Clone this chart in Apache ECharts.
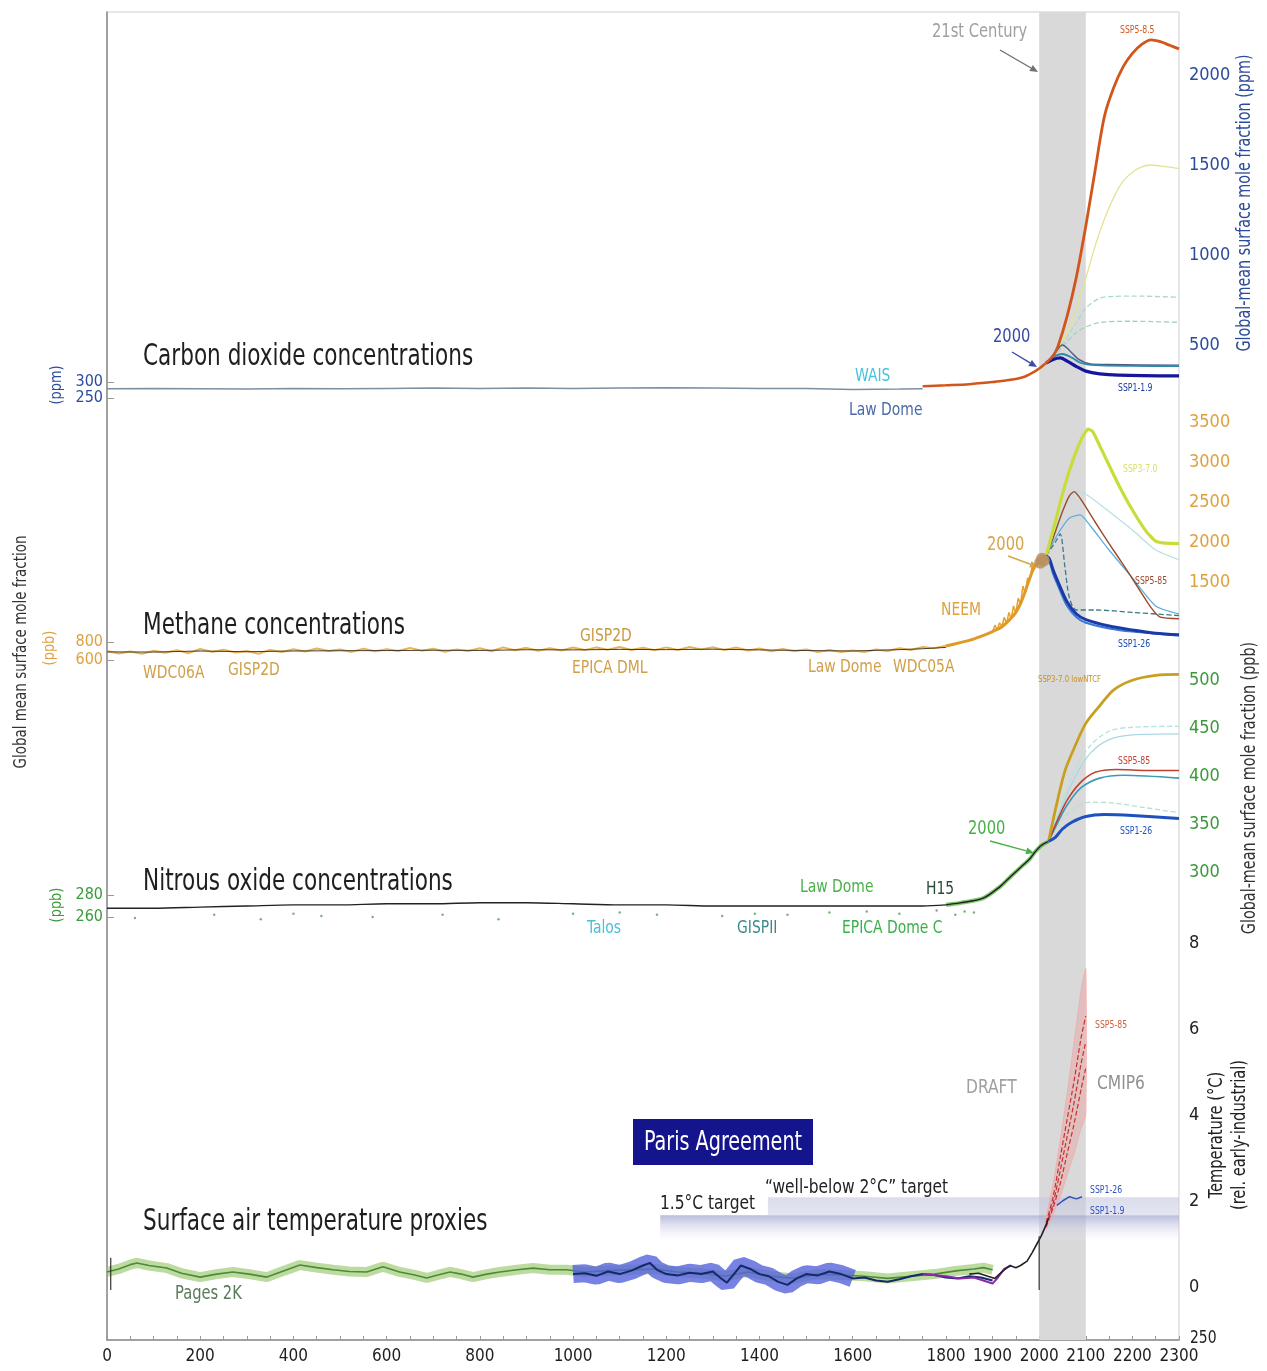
<!DOCTYPE html>
<html>
<head>
<meta charset="utf-8">
<script src="https://cdn.jsdelivr.net/npm/echarts@6/dist/echarts.min.js"></script>
<style>html,body{margin:0;background:#fff}#main{width:1267px;height:1371px}</style>
</head>
<body>
<div id="main"></div>
<script>
// ---- time axis ----
const yearTicks = [0, 200, 400, 600, 800, 1000, 1200, 1400, 1600, 1800, 1900, 2000, 2100, 2200, 2300];
const century21 = [2000, 2100];

// ---- CO2 (ppm) ----
const co2Ticks = [500, 1000, 1500, 2000];
const co2LeftTicks = [250, 300];
const co2Hist = [[0,279],[100,280],[200,279],[300,278],[400,280],[500,279],[600,280],[700,281],[800,280],[900,281],[1000,280],[1100,281],[1200,282],[1300,281],[1400,280],[1500,280],[1600,277],[1700,278],[1750,279]];
const co2Obs = [[1750,271],[1800,276],[1850,282],[1900,294],[1925,302],[1950,311],[1970,325],[1990,352],[2000,369],[2015,400]];
const co2Ssp585 = [[2015,400],[2030,440],[2040,490],[2060,660],[2080,880],[2100,1160],[2120,1470],[2140,1770],[2160,1930],[2180,2045],[2200,2120],[2220,2170],[2240,2195],[2260,2185],[2280,2165],[2300,2145]];
const co2Ssp370 = [[2015,400],[2040,480],[2060,570],[2080,700],[2100,870],[2120,1050],[2140,1200],[2160,1320],[2180,1410],[2200,1460],[2220,1490],[2240,1500],[2260,1495],[2300,1480]];
const co2Ssp460 = [[2015,400],[2040,470],[2060,545],[2080,625],[2100,705],[2130,760],[2160,770],[2200,772],[2300,765]];
const co2Ssp245 = [[2015,400],[2040,460],[2060,520],[2080,570],[2100,600],[2130,625],[2200,632],[2300,626]];
const co2Ssp534 = [[2015,400],[2035,460],[2050,500],[2065,470],[2085,420],[2110,395],[2150,392],[2300,388]];
const co2Ssp126 = [[2015,400],[2035,440],[2050,450],[2070,430],[2090,400],[2120,388],[2200,384],[2300,383]];
const co2Ssp119 = [[2015,400],[2030,420],[2045,428],[2060,410],[2080,380],[2100,355],[2130,340],[2170,333],[2300,328]];

// ---- CH4 (ppb) ----
const ch4Ticks = [1500, 2000, 2500, 3000, 3500];
const ch4LeftTicks = [600, 800];
const ch4Hist = [[0,690],[100,688],[200,700],[300,692],[400,700],[500,703],[600,705],[700,708],[800,706],[900,714],[1000,712],[1100,718],[1200,715],[1300,720],[1400,712],[1500,705],[1600,700],[1700,715],[1750,725],[1800,740]];
const ch4Raw = [[0,700],[25,672],[50,695],[75,668],[100,702],[125,680],[150,710],[175,676],[200,722],[225,690],[250,715],[275,684],[300,700],[325,670],[350,712],[375,688],[400,720],[425,694],[450,728],[475,700],[500,716],[525,690],[550,726],[575,698],[600,720],[625,700],[650,735],[675,704],[700,725],[725,692],[750,718],[775,700],[800,730],[825,698],[850,740],[875,708],[900,735],[925,702],[950,730],[975,705],[1000,738],[1025,710],[1050,740],[1075,715],[1100,745],[1125,712],[1150,735],[1175,708],[1200,740],[1225,712],[1250,745],[1275,718],[1300,742],[1325,710],[1350,738],[1375,705],[1400,728],[1425,698],[1450,722],[1475,696],[1500,718],[1525,690],[1550,712],[1575,688],[1600,706],[1625,690],[1650,716],[1675,700],[1700,730],[1725,712],[1750,745],[1775,730],[1800,760]];
const ch4Obs = [[1800,700],[1850,770],[1875,820],[1900,880],[1920,940],[1940,1050],[1950,1120],[1960,1230],[1970,1380],[1980,1550],[1990,1690],[2000,1750],[2015,1830]];
const ch4Neem = [[1900,880],[1905,960],[1910,900],[1915,990],[1920,940],[1925,1060],[1930,980],[1935,1120],[1940,1040],[1945,1200],[1950,1110],[1955,1300],[1960,1220],[1965,1450],[1970,1360],[1975,1550],[1980,1520],[1985,1700],[1990,1660],[1995,1760],[2000,1740]];
const ch4Blob = [[2002,1740],[2006,1790],[2010,1770]];
const ch4Ssp370 = [[2015,1830],[2030,2150],[2050,2600],[2070,2980],[2090,3280],[2105,3410],[2115,3380],[2140,3080],[2170,2720],[2200,2400],[2230,2130],[2250,2010],[2270,1985],[2300,1980]];
const ch4Ssp585 = [[2015,1830],[2030,2050],[2050,2380],[2065,2580],[2075,2630],[2090,2530],[2120,2250],[2150,1980],[2180,1720],[2210,1450],[2240,1180],[2260,1060],[2300,1040]];
const ch4Ssp460 = [[2015,1830],[2040,2250],[2065,2550],[2085,2640],[2110,2560],[2150,2380],[2200,2150],[2250,1900],[2300,1780]];
const ch4Ssp245 = [[2015,1830],[2040,2100],[2065,2300],[2088,2340],[2110,2200],[2150,1900],[2200,1550],[2250,1200],[2300,1100]];
const ch4Ssp434 = [[2015,1830],[2035,2000],[2045,2100],[2055,1700],[2065,1300],[2080,1150],[2120,1150],[2200,1120],[2300,1080]];
const ch4Ssp126 = [[2015,1830],[2022,1790],[2030,1650],[2045,1440],[2060,1250],[2080,1100],[2100,1030],[2150,950],[2200,900],[2250,860],[2300,840]];
const ch4Ssp119 = [[2015,1830],[2022,1760],[2030,1600],[2045,1390],[2060,1200],[2080,1060],[2100,990],[2150,920],[2200,880],[2300,830]];

// ---- N2O (ppb) ----
const n2oTicks = [300, 350, 400, 450, 500];
const n2oLeftTicks = [260, 280];
const n2oHist = [[0,268],[100,268],[200,269],[300,270],[400,271],[500,271],[600,272],[700,272],[800,273],[900,273],[1000,272],[1100,271],[1200,271],[1300,270],[1400,270],[1500,270],[1600,270],[1700,270],[1750,270],[1800,271]];
const n2oDots = [[60,259],[230,262],[330,258],[400,263],[460,261],[570,260],[720,262],[840,258],[1000,263],[1100,264],[1180,262],[1320,261],[1390,263],[1460,262],[1550,264],[1630,265],[1700,263],[1780,266],[1820,262],[1840,265],[1860,264]];
const n2oObs = [[1800,266],[1830,268],[1880,273],[1916,285],[1940,296],[1960,305],[1980,314],[1991,321],[2005,328],[2020,332]];
const n2oSsp370 = [[2020,332],[2038,372],[2055,405],[2073,427],[2100,455],[2131,474],[2160,490],[2200,500],[2250,505],[2300,506]];
const n2oPaleA = [[2020,332],[2050,375],[2080,410],[2110,432],[2150,447],[2200,451],[2300,452]];
const n2oPaleB = [[2020,332],[2050,370],[2080,402],[2110,424],[2150,438],[2200,443],[2300,444]];
const n2oSsp585 = [[2020,332],[2040,355],[2060,375],[2088,393],[2120,404],[2166,407],[2230,406],[2300,406]];
const n2oSsp245 = [[2020,332],[2040,352],[2060,370],[2090,388],[2130,398],[2180,401],[2300,398]];
const n2oPaleC = [[2020,332],[2050,355],[2080,368],[2110,373],[2160,372],[2230,367],[2300,362]];
const n2oSsp126 = [[2020,332],[2034,336],[2050,345],[2070,352],[2100,358],[2140,360],[2200,359],[2300,356]];

// ---- temperature (degC, rel. early-industrial) ----
const tempTicks = [0, 2, 4, 6, 8];
const pages2k = [[0,0.35],[25,0.42],[50,0.52],[64,0.56],[90,0.5],[128,0.44],[160,0.32],[200,0.23],[235,0.3],[270,0.35],[305,0.3],[343,0.23],[380,0.38],[414,0.51],[450,0.45],[485,0.4],[520,0.36],[557,0.35],[592,0.47],[628,0.35],[660,0.28],[686,0.21],[710,0.28],[736,0.35],[760,0.3],[785,0.23],[815,0.3],[843,0.35],[880,0.4],[914,0.44],[950,0.4],[986,0.4],[1025,0.35],[1075,0.38],[1125,0.4],[1175,0.42],[1225,0.35],[1275,0.32],[1325,0.25],[1375,0.35],[1425,0.25],[1475,0.2],[1525,0.3],[1575,0.28],[1625,0.25],[1675,0.2],[1725,0.25],[1775,0.3],[1825,0.38],[1860,0.42],[1880,0.45],[1900,0.4]];
const recon1000 = [[1000,0.3],[1025,0.32],[1050,0.26],[1075,0.36],[1100,0.3],[1125,0.38],[1150,0.5],[1165,0.56],[1180,0.4],[1200,0.3],[1225,0.27],[1250,0.33],[1275,0.3],[1300,0.36],[1315,0.22],[1330,0.1],[1345,0.3],[1360,0.5],[1380,0.42],[1400,0.3],[1420,0.25],[1440,0.12],[1460,0.05],[1480,0.2],[1500,0.3],[1525,0.27],[1550,0.36],[1575,0.3],[1600,0.2],[1625,0.22],[1650,0.15],[1675,0.12],[1700,0.18],[1725,0.25],[1750,0.3],[1775,0.28],[1800,0.22],[1825,0.2],[1850,0.25],[1875,0.22],[1900,0.15]];
const reconPurple = [[1750,0.3],[1800,0.25],[1830,0.2],[1860,0.22],[1880,0.15],[1900,0.08],[1910,0.2],[1925,0.42],[1940,0.5]];
const tempObs = [[1850,0.3],[1870,0.32],[1890,0.25],[1905,0.2],[1920,0.35],[1937,0.5],[1950,0.45],[1960,0.5],[1974,0.6],[1985,0.8],[1995,1.0],[2005,1.2],[2015,1.45],[2020,1.6]];
const tempSspA = [[2015,1.5],[2030,2.1],[2045,3.0],[2060,3.9],[2075,4.8],[2090,5.8],[2100,6.3]];
const tempSspB = [[2015,1.45],[2030,1.95],[2045,2.7],[2060,3.5],[2075,4.3],[2090,5.2],[2100,5.7]];
const tempSspC = [[2015,1.4],[2030,1.85],[2045,2.4],[2060,3.1],[2075,3.8],[2090,4.6],[2100,5.1]];
const tempLow = [[2015,1.35],[2030,1.7],[2045,2.1],[2060,2.6],[2075,3.1],[2090,3.7],[2100,4.0]];
const tempHigh = [[2015,1.6],[2030,2.4],[2045,3.4],[2060,4.5],[2075,5.7],[2090,6.9],[2100,7.4]];
const tempSsp126 = [[2038,1.9],[2050,2.0],[2065,2.1],[2080,2.05],[2092,2.1]];
const marker2000 = [[2000,-0.07],[2000,1.18]];
const markerStart = [[8,-0.07],[8,0.68]];
const target15 = [1187, 1.1, 1.67];   // start year, low, high
const target2 = [1418, 1.67, 2.09];

const FONT = "'Liberation Sans Narrow','DejaVu Sans Condensed','Arial Narrow',sans-serif";
const chart = echarts.init(document.getElementById('main'));

// panel grids: base frame, CO2, CH4, N2O, temperature
const grids = [
  { left: 107, right: 88, top: 12, height: 1328, show: true, borderColor: '#cfcfcf', borderWidth: 1 },
  { left: 107, right: 88, top: 21, height: 378 },
  { left: 107, right: 88, top: 406, height: 264 },
  { left: 107, right: 88, top: 661, height: 268.8 },
  { left: 107, right: 88, top: 943, height: 387 }
];

const plain = v => String(v);
const xAxes = [
  { type: 'value', gridIndex: 0, min: 0, max: 2300, interval: 50,
    axisLine: { lineStyle: { color: '#8a8a8a', width: 1.5 } },
    axisTick: { inside: true, length: 4, lineStyle: { color: '#999' } },
    splitLine: { show: false },
    axisLabel: { customValues: yearTicks, formatter: plain, color: '#1e1e1e', fontSize: 17, fontFamily: FONT, margin: 8 } }
];
for (let i = 1; i < 5; i++) xAxes.push({ type: 'value', gridIndex: i, min: 0, max: 2300, show: false });

function rightAxis(gi, min, max, ticks, color) {
  return { type: 'value', gridIndex: gi, position: 'right', min, max,
    axisLine: { show: false }, axisTick: { show: false }, splitLine: { show: false },
    axisLabel: { customValues: ticks, formatter: plain, color, fontSize: 18, fontFamily: FONT, margin: 10 } };
}
function leftAxis(gi, min, max, ticks, color) {
  return { type: 'value', gridIndex: gi, position: 'left', min, max,
    axisLine: { show: false }, splitLine: { show: false },
    axisTick: { customValues: ticks, inside: true, length: 7, lineStyle: { color: '#999' } },
    axisLabel: { customValues: ticks, formatter: plain, color, fontSize: 16, fontFamily: FONT, margin: 4 } };
}
const yAxes = [
  { type: 'value', gridIndex: 0, min: 0, max: 1, axisLine: { show: true, lineStyle: { color: '#8a8a8a', width: 1.5 } },
    axisTick: { show: false }, axisLabel: { show: false }, splitLine: { show: false } },
  rightAxis(1, 200, 2300, co2Ticks, '#2b4c9b'),
  leftAxis(1, 247, 1428.25, co2LeftTicks, '#2b4c9b'),
  rightAxis(2, 400, 3700, ch4Ticks, '#e0a040'),
  leftAxis(2, 488.9, 3422.2, ch4LeftTicks, '#e0a040'),
  rightAxis(3, 240, 520, n2oTicks, '#3a9a3a'),
  leftAxis(3, 248.36, 492.7, n2oLeftTicks, '#3a9a3a'),
  rightAxis(4, -1, 8, tempTicks, '#222')
];

function ln(name, data, xi, yi, color, width, more) {
  return Object.assign({ name, type: 'line', data, xAxisIndex: xi, yAxisIndex: yi,
    showSymbol: false, symbol: 'none', silent: true, z: 3,
    lineStyle: { color, width } }, more || {});
}
const dashed = (c, w) => ({ lineStyle: { color: c, width: w, type: 'dashed' }, smooth: 0.3 });

const bandGrad = (a, b) => new echarts.graphic.LinearGradient(0, 0, 0, 1, [
  { offset: 0, color: a }, { offset: 1, color: b }]);

const series = [
  // 21st-century shading across all panels
  { type: 'line', xAxisIndex: 0, yAxisIndex: 0, data: [[2000, 0]], symbol: 'none', silent: true, z: 0,
    lineStyle: { opacity: 0 },
    markArea: { silent: true, itemStyle: { color: '#d9d9d9' },
      data: [[{ xAxis: century21[0] }, { xAxis: century21[1] }]] } },

  // CO2
  ln('co2Hist', co2Hist, 1, 2, '#7d8fa3', 1.5),
  ln('co2Ssp370', co2Ssp370, 1, 1, '#e4e394', 1.3, { smooth: 0.3 }),
  ln('co2Ssp460', co2Ssp460, 1, 1, '#a9dcc4', 1.3, dashed('#a9dcc4', 1.3)),
  ln('co2Ssp245', co2Ssp245, 1, 1, '#9fd4c0', 1.3, dashed('#9fd4c0', 1.3)),
  ln('co2Ssp534', co2Ssp534, 1, 1, '#4a5a8a', 1.3, { smooth: 0.3 }),
  ln('co2Ssp126', co2Ssp126, 1, 1, '#2a8aa8', 1.8, { smooth: 0.3 }),
  ln('co2Ssp119', co2Ssp119, 1, 1, '#16169a', 3.2, { smooth: 0.3 }),
  ln('co2Obs', co2Obs, 1, 1, '#d2561b', 2.5, { smooth: 0.3 }),
  ln('co2Ssp585', co2Ssp585, 1, 1, '#d2561b', 2.8, { smooth: 0.3 }),

  // CH4
  ln('ch4Raw', ch4Raw, 2, 4, '#e2a63a', 2, { lineStyle: { color: '#e2a63a', width: 2, opacity: 0.85 } }),
  ln('ch4Hist', ch4Hist, 2, 4, '#4a3a20', 1),
  ln('ch4Neem', ch4Neem, 2, 3, '#e6a12a', 1.5),
  ln('ch4Obs', ch4Obs, 2, 3, '#df9a28', 3, { smooth: 0.3 }),
  ln('ch4Ssp460', ch4Ssp460, 2, 3, '#b9e0e4', 1.3, { smooth: 0.2 }),
  ln('ch4Ssp245', ch4Ssp245, 2, 3, '#5eaee0', 1.3, { smooth: 0.2 }),
  ln('ch4Ssp434', ch4Ssp434, 2, 3, '#9cc4b0', 1.3, dashed('#3a7a8a', 1.3)),
  ln('ch4Ssp585', ch4Ssp585, 2, 3, '#9a4a2a', 1.4, { smooth: 0.2 }),
  ln('ch4Ssp370', ch4Ssp370, 2, 3, '#c8dc3a', 3.2, { smooth: 0.15 }),
  ln('ch4Ssp119', ch4Ssp119, 2, 3, '#3a78d8', 2, { smooth: 0.3 }),
  ln('ch4Ssp126', ch4Ssp126, 2, 3, '#1a3aa8', 3, { smooth: 0.3 }),
  { type: 'scatter', data: ch4Blob, xAxisIndex: 2, yAxisIndex: 3, symbolSize: 12, silent: true, z: 4,
    itemStyle: { color: '#b89060', opacity: 0.85 } },

  // N2O
  { type: 'scatter', data: n2oDots, xAxisIndex: 3, yAxisIndex: 6, symbolSize: 2.5, silent: true,
    itemStyle: { color: '#5aa05a' } },
  ln('n2oHist', n2oHist, 3, 6, '#222', 1.4, { smooth: 0.3 }),
  ln('n2oObsGreen', n2oObs, 3, 5, '#5cb84a', 4, { smooth: 0.3, lineStyle: { color: '#5cb84a', width: 4, opacity: 0.8 } }),
  ln('n2oObs', n2oObs, 3, 5, '#222', 1.4, { smooth: 0.3 }),
  ln('n2oPaleA', n2oPaleA, 3, 5, '#b4e2e2', 1.3, dashed('#b4e2e2', 1.3)),
  ln('n2oPaleB', n2oPaleB, 3, 5, '#a8d8e4', 1.3, { smooth: 0.3 }),
  ln('n2oPaleC', n2oPaleC, 3, 5, '#b8e0d0', 1.3, dashed('#b8e0d0', 1.3)),
  ln('n2oSsp245', n2oSsp245, 3, 5, '#3a9ab8', 1.6, { smooth: 0.3 }),
  ln('n2oSsp585', n2oSsp585, 3, 5, '#c0402c', 1.6, { smooth: 0.3 }),
  ln('n2oSsp370', n2oSsp370, 3, 5, '#c8a020', 2.8, { smooth: 0.3 }),
  ln('n2oSsp126', n2oSsp126, 3, 5, '#1e50c0', 3, { smooth: 0.3 }),

  // temperature: Paris target bands
  { type: 'line', xAxisIndex: 4, yAxisIndex: 7, data: [[2000, 0]], symbol: 'none', silent: true, z: 1,
    lineStyle: { opacity: 0 },
    markArea: { silent: true, data: [
      [{ xAxis: target15[0], yAxis: target15[2], itemStyle: { color: bandGrad('rgba(165,170,208,0.8)', 'rgba(235,236,245,0.1)') } },
       { xAxis: 2300, yAxis: target15[1] }],
      [{ xAxis: target2[0], yAxis: target2[2], itemStyle: { color: bandGrad('rgba(195,198,222,0.6)', 'rgba(205,208,228,0.55)') } },
       { xAxis: 2300, yAxis: target2[1] }]
    ] } },
  ln('p2kBand', pages2k, 4, 7, '#9ccc70', 10, { lineStyle: { color: '#98c86c', width: 10, opacity: 0.65 } }),
  ln('p2k', pages2k, 4, 7, '#4e8a3a', 1.6),
  ln('reconBand', recon1000.filter(p => p[0] <= 1600), 4, 7, '#5563dc', 18,
    { lineStyle: { color: '#5563dc', width: 18, opacity: 0.8 } }),
  ln('recon', recon1000, 4, 7, '#16286a', 2),
  ln('reconPurple', reconPurple, 4, 7, '#8a2aa8', 2),
  // SSP5-8.5 spread, drawn from the low/high envelope arrays
  { type: 'custom', coordinateSystem: 'cartesian2d', xAxisIndex: 4, yAxisIndex: 7, silent: true, z: 2,
    data: [tempLow[0]],
    renderItem: function (params, api) {
      const pts = tempHigh.map(p => api.coord(p)).concat(tempLow.slice().reverse().map(p => api.coord(p)));
      return { type: 'polygon', shape: { points: pts, smooth: 0.2 },
        style: { fill: 'rgba(238,150,150,0.38)', stroke: 'rgba(240,170,170,0.8)', lineWidth: 1 } };
    } },
  ln('tempSspC', tempSspC, 4, 7, '#c83030', 1.2, dashed('#c83030', 1.2)),
  ln('tempSspB', tempSspB, 4, 7, '#c83030', 1.2, dashed('#c83030', 1.2)),
  ln('tempSspA', tempSspA, 4, 7, '#c83030', 1.2, dashed('#c83030', 1.2)),
  ln('tempObs', tempObs, 4, 7, '#222', 1.6),
  ln('tempSsp126', tempSsp126, 4, 7, '#3050c0', 1.5),
  ln('marker2000', marker2000, 4, 7, '#333', 1.2),
  ln('markerStart', markerStart, 4, 7, '#333', 1.2)
];

// ---- text annotations ----
const SX = 0.86;
function txt(text, x, y, size, color, sx) {
  return { type: 'text', x, y, scaleX: sx || SX, silent: true, z: 50,
    style: { text, fill: color, fontSize: size, fontFamily: FONT, align: 'left', verticalAlign: 'middle' } };
}
function ctxt(text, x, y, size, color, sx) {
  const t = txt(text, x, y, size, color, sx);
  t.style.align = 'center';
  return t;
}
function vtxt(text, x, y, size, color, sx) {
  return { type: 'text', x, y, rotation: Math.PI / 2, scaleX: sx || 0.9, silent: true, z: 50,
    style: { text, fill: color, fontSize: size, fontFamily: FONT, align: 'center', verticalAlign: 'middle' } };
}
function arrow(x1, y1, x2, y2, color) {
  const a = Math.atan2(y2 - y1, x2 - x1), L = 8, W = 3.5;
  const bx = x2 - L * Math.cos(a), by = y2 - L * Math.sin(a);
  return { type: 'group', silent: true, z: 50, children: [
    { type: 'line', shape: { x1, y1, x2: bx, y2: by }, style: { stroke: color, lineWidth: 1.4 } },
    { type: 'polygon', shape: { points: [[x2, y2], [bx - W * Math.sin(a), by + W * Math.cos(a)], [bx + W * Math.sin(a), by - W * Math.cos(a)]] },
      style: { fill: color } }
  ] };
}
const TITLE = '#1e1e1e';
const TS = 0.8;
const graphic = [
  txt('Carbon dioxide concentrations', 143, 357, 30, TITLE, TS),
  txt('Methane concentrations', 143, 626, 30, TITLE, TS),
  txt('Nitrous oxide concentrations', 143, 882, 30, TITLE, TS),
  txt('Surface air temperature proxies', 143, 1222, 30, TITLE, TS),

  txt('21st Century', 932, 32, 19, '#a0a0a0'),
  arrow(1000, 50, 1038, 72, '#707070'),
  txt('SSP5-8.5', 1120, 30, 10, '#d2561b'),
  txt('2000', 993, 337, 19, '#3a4aa8'),
  arrow(1012, 352, 1037, 367, '#3a4aa8'),
  txt('WAIS', 855, 376, 18, '#45c2dc'),
  txt('Law Dome', 849, 410, 18, '#4a6aa8'),
  txt('SSP1-1.9', 1118, 388, 10, '#1a3a9a'),

  txt('WDC06A', 143, 673, 18, '#d0a04a'),
  txt('GISP2D', 228, 670, 18, '#d0a04a'),
  txt('GISP2D', 580, 636, 18, '#c89a40'),
  txt('EPICA DML', 572, 668, 18, '#d0a04a'),
  txt('Law Dome', 808, 667, 18, '#d0a04a'),
  txt('WDC05A', 893, 667, 18, '#d0a04a'),
  txt('NEEM', 941, 610, 18, '#e0a040'),
  txt('2000', 987, 545, 19, '#d8a448'),
  arrow(1008, 556, 1038, 567, '#d8a448'),
  txt('SSP3-7.0', 1123, 469, 10, '#d8e070'),
  txt('SSP5-85', 1135, 581, 10, '#9a4a2a'),
  txt('SSP1-26', 1118, 644, 10, '#1a4ab0'),

  txt('Law Dome', 800, 887, 18, '#4ab04a'),
  txt('H15', 926, 889, 18, '#2a4a3a'),
  txt('Talos', 587, 928, 18, '#4ac0d8'),
  txt('GISPII', 737, 928, 18, '#3a8a8a'),
  txt('EPICA Dome C', 842, 928, 18, '#3ab04a'),
  txt('2000', 968, 829, 19, '#4ab04a'),
  arrow(990, 841, 1034, 853, '#4ab04a'),
  txt('SSP3-7.0 lowNTCF', 1038, 680, 9, '#c89020'),
  txt('SSP5-85', 1118, 761, 10, '#c04030'),
  txt('SSP1-26', 1120, 831, 10, '#2050c0'),

  txt('Pages 2K', 175, 1294, 19, '#5a7a5a'),
  txt('DRAFT', 966, 1088, 20, '#a0a0a0'),
  txt('CMIP6', 1097, 1084, 20, '#909090'),
  txt('SSP5-85', 1095, 1025, 10, '#d06040'),
  txt('SSP1-26', 1090, 1190, 10, '#3050c0'),
  txt('SSP1-1.9', 1090, 1211, 10, '#3050c0'),
  txt('1.5°C target', 660, 1204, 20, '#222'),
  txt('\u201cwell-below 2°C\u201d target', 765, 1188, 20, '#222'),
  { type: 'rect', silent: true, z: 49, shape: { x: 633, y: 1119, width: 180, height: 46 }, style: { fill: '#14148c' } },
  ctxt('Paris Agreement', 723, 1143, 26, '#ffffff', 0.82),
  txt('250', 1190, 1338, 18, '#222'),

  vtxt('(ppm)', 57, 385, 16, '#2b4c9b'),
  vtxt('(ppb)', 50, 648, 16, '#e0a040'),
  vtxt('(ppb)', 57, 905, 16, '#3a9a3a'),
  vtxt('Global mean surface mole fraction', 22, 652, 17, '#333', 0.88),
  vtxt('Global-mean surface mole fraction (ppm)', 1245, 203, 19, '#2b4c9b', 0.84),
  vtxt('Global-mean surface mole fraction (ppb)', 1250, 788, 19, '#333', 0.84),
  vtxt('Temperature (°C)', 1217, 1135, 19, '#222', 0.86),
  vtxt('(rel. early-industrial)', 1240, 1135, 19, '#222', 0.86)
];

chart.setOption({
  animation: false,
  textStyle: { fontFamily: FONT },
  grid: grids,
  xAxis: xAxes,
  yAxis: yAxes,
  series: series,
  graphic: graphic
});
</script>
</body>
</html>
